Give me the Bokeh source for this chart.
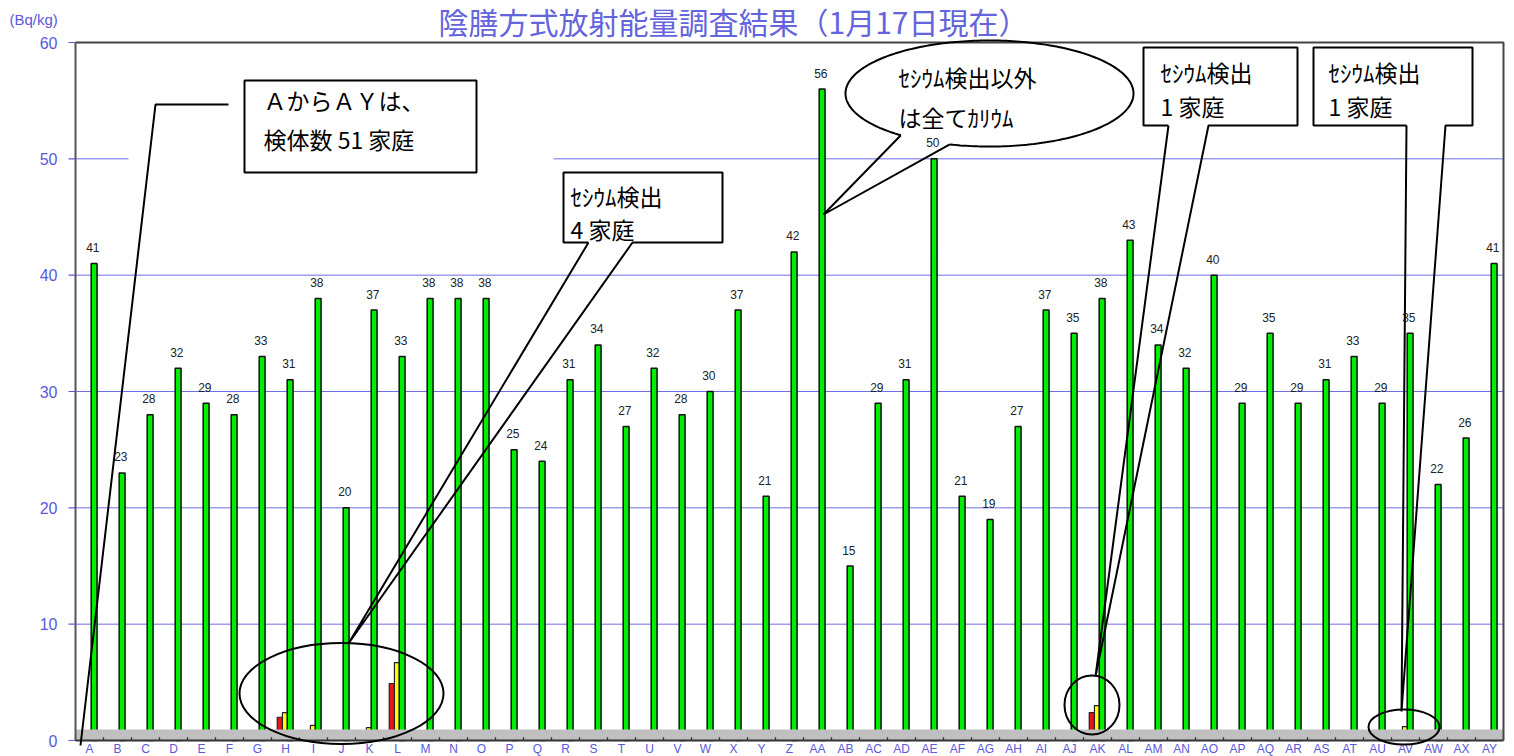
import numpy as np
from bokeh.plotting import figure
from bokeh.models import Range1d
from bokeh.core.properties import value
from bokeh.embed import file_html
from bokeh.resources import INLINE

# ---------------- data ----------------
households = ["A", "B", "C", "D", "E", "F", "G", "H", "I", "J", "K", "L", "M",
              "N", "O", "P", "Q", "R", "S", "T", "U", "V", "W", "X", "Y", "Z",
              "AA", "AB", "AC", "AD", "AE", "AF", "AG", "AH", "AI", "AJ", "AK",
              "AL", "AM", "AN", "AO", "AP", "AQ", "AR", "AS", "AT", "AU", "AV",
              "AW", "AX", "AY"]
potassium = [41, 23, 28, 32, 29, 28, 33, 31, 38, 20, 37, 33, 38, 38, 38, 25, 24,
             31, 34, 27, 32, 28, 30, 37, 21, 42, 56, 15, 29, 31, 50, 21, 19, 27,
             37, 35, 38, 43, 34, 32, 40, 29, 35, 29, 31, 33, 29, 35, 22, 26, 41]
cs134_households = ["H", "L", "AK"]
cs134_values = [2.0, 4.9, 2.4]
cs137_households = ["H", "I", "K", "L", "AK", "AV"]
cs137_values = [2.4, 1.3, 1.1, 6.7, 3.0, 1.2]
y_ticks = [0, 10, 20, 30, 40, 50, 60]

title_text = "陰膳方式放射能量調査結果（1月17日現在）"
unit_text = "(Bq/kg)"

BLUE = "#5a5ad8"
GRID = "#6e6ee8"
JP = "Noto Sans CJK JP"
SANS = "Liberation Sans"

# ---------------- geometry of the page ----------------
W, H = 1514, 756
FRAME_L, FRAME_R = 75.0, 1503.0          # page x of value-axis and right border
FRAME_T, FRAME_B = 42.0, 740.0           # page y of 60 and of 0
n = len(households)
ppc = (FRAME_R - FRAME_L) / n            # pixels per category
ppu = (FRAME_B - FRAME_T) / 60.0         # pixels per Bq/kg
YMAX = y_ticks[-1]

p = figure(width=W, height=H,
           x_range=Range1d(-FRAME_L / ppc, n + (W - FRAME_R) / ppc),
           y_range=Range1d(-(H - FRAME_B) / ppu, YMAX + FRAME_T / ppu),
           output_backend="svg", toolbar_location=None,
           min_border_left=0, min_border_right=0,
           min_border_top=0, min_border_bottom=0)
p.axis.visible = False
p.grid.visible = False
p.outline_line_color = None
p.background_fill_color = "white"

# category centre positions on the x scale
pos = {c: i + 0.5 for i, c in enumerate(households)}
xk = [pos[c] for c in households]

# horizontal grid lines
grid_vals = y_ticks[1:-1]
p.segment(x0=[0] * len(grid_vals), x1=[n] * len(grid_vals), y0=grid_vals,
          y1=grid_vals, line_color=GRID, line_width=1)


# reference-pixel helpers for annotations
def X(px):
    return (np.asarray(px, dtype=float) - FRAME_L) / ppc


def Y(py):
    return (FRAME_B - np.asarray(py, dtype=float)) / ppu


# white patch that hides part of the 50 grid line (as in the reference)
p.quad(left=[X(128)], right=[X(553)], bottom=[49.7], top=[50.3],
       fill_color="white", line_color=None)

# ---------------- bars ----------------
p.vbar(x=[pos[c] - 0.20 for c in cs134_households], top=cs134_values, bottom=0,
       width=0.19, fill_color="#e8141c", line_color="#222222", line_width=1.2)
p.vbar(x=[pos[c] - 0.015 for c in cs137_households], top=cs137_values, bottom=0,
       width=0.19, fill_color="#ffff00", line_color="#222222", line_width=1.2)
p.vbar(x=[x + 0.165 for x in xk], top=potassium, bottom=0, width=0.21,
       fill_color="#00ee00", line_color="#111111", line_width=1.5)

p.text(x=[x + 0.12 for x in xk], y=potassium, text=[str(v) for v in potassium],
       text_align="center", text_baseline="middle", y_offset=-16,
       text_font=value(SANS), text_font_size="12px", text_color="#222222")

# gray floor
p.quad(left=[0], right=[n], bottom=[0], top=[0.95],
       fill_color="#c0c0c0", line_color=None)
bounds = list(range(1, n))
p.segment(x0=bounds, y0=[0] * len(bounds), x1=bounds, y1=[0.28] * len(bounds),
          line_color="#333333", line_width=1.3)

# ---------------- axes (drawn on the scales) ----------------
# frame: top and right border
p.line(x=[0, n, n], y=[YMAX, YMAX, 0], line_color="#444444", line_width=2)
# value axis
p.line(x=[0, 0], y=[0, YMAX], line_color="#555555", line_width=2)
p.segment(x0=[-7 / ppc] * len(y_ticks), x1=[0] * len(y_ticks), y0=y_ticks,
          y1=y_ticks, line_color=BLUE, line_width=1.2)
p.text(x=[-18 / ppc] * len(y_ticks), y=y_ticks, text=[str(t) for t in y_ticks],
       text_align="right", text_baseline="middle", text_font=value(SANS),
       text_font_size="16px", text_color=BLUE)
# category axis
p.line(x=[0, n], y=[0, 0], line_color="#333333", line_width=2)
p.text(x=xk, y=[0] * n, text=households, text_align="center",
       text_baseline="middle", y_offset=8, text_font=value(SANS),
       text_font_size="12px", text_color=BLUE)

# title and unit
p.text(x=[X(733)], y=[Y(20)], text=[title_text], text_align="center",
       text_baseline="middle", text_font=value(JP), text_font_size="30px",
       text_color="#6464dc")
p.text(x=[X(9)], y=[Y(19)], text=[unit_text], text_align="left",
       text_baseline="middle", text_font=value(SANS), text_font_size="15px",
       text_color=BLUE)

# ---------------- callouts ----------------
LW = 2


def box(l, r, t, b, wl, wr, tip):
    xs = [wl, l, l, r, r, wr, tip[0], wl]
    ys = [b, b, t, t, b, b, tip[1], b]
    p.quad(left=[X(l)], right=[X(r)], top=[Y(t)], bottom=[Y(b)],
           fill_color="white", line_color=None)
    p.line(x=X(xs), y=Y(ys), line_color="black", line_width=LW)


def jtext(x, y, s, size="23px"):
    p.text(x=[X(x)], y=[Y(y)], text=[s], text_align="left",
           text_baseline="middle", text_font=value(JP),
           text_font_size=size, text_color="black")


# box 1: A..AY
p.quad(left=[X(244)], right=[X(476)], top=[Y(80)], bottom=[Y(172)],
       fill_color="white", line_color="black", line_width=LW)
p.line(x=X([228, 155, 80]), y=Y([104, 104, 745]), line_color="black", line_width=LW)
jtext(263, 99, "ＡからＡＹは、")
jtext(263, 138, "検体数 51 家庭")

# box 2: cesium 4 households
box(563, 722, 172, 242, 588, 632, (348, 643))
jtext(570, 195, "ｾｼｳﾑ検出")
jtext(570, 228, "4 家庭")
p.ellipse(x=[X(341)], y=[Y(693)], width=[204 / ppc], height=[101 / ppu],
          fill_color=None, line_color="black", line_width=LW)

# ellipse callout: potassium (outline open where the pointer joins it)
cxp, cyp, a, b = 989.0, 93.0, 144.0, 53.0
t = np.radians(np.linspace(128, 466, 240))
ex = cxp + a * np.cos(t)
ey = cyp + b * np.sin(t)
p.line(x=X(ex), y=Y(ey), line_color="black", line_width=LW)
p.line(x=X([ex[0], 823, ex[-1]]), y=Y([ey[0], 214, ey[-1]]),
       line_color="black", line_width=LW)
jtext(898, 76, "ｾｼｳﾑ検出以外")
jtext(898, 116, "は全てｶﾘｳﾑ")

# box 4: AK
box(1143, 1297, 47, 125, 1168, 1208, (1095, 676))
jtext(1160, 71, "ｾｼｳﾑ検出")
jtext(1160, 105, "1 家庭")
p.ellipse(x=[X(1091.5)], y=[Y(704.5)], width=[55 / ppc], height=[59 / ppu],
          fill_color=None, line_color="black", line_width=LW)

# box 5: AV
box(1313, 1472, 47, 125, 1406, 1445, (1401, 711))
jtext(1328, 71, "ｾｼｳﾑ検出")
jtext(1328, 105, "1 家庭")
p.ellipse(x=[X(1403.5)], y=[Y(726.5)], width=[71 / ppc], height=[35 / ppu],
          fill_color=None, line_color="black", line_width=LW)

open("out.html", "w").write(file_html(p, INLINE))
